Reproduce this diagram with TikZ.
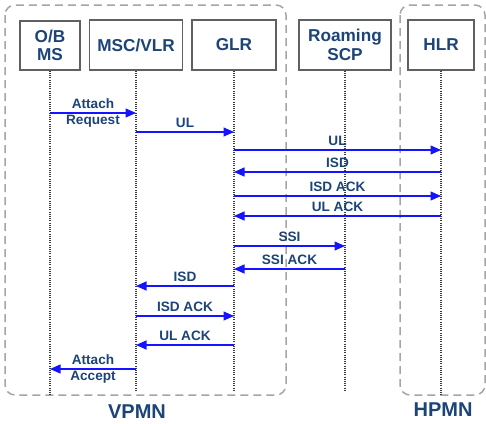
\documentclass[tikz,border=0pt]{standalone}
\usepackage{fontspec}
\setmainfont{Liberation Sans}
\usetikzlibrary{arrows.meta}
\definecolor{txt}{RGB}{28,68,120}
\definecolor{boxline}{RGB}{96,96,96}
\definecolor{zonecol}{RGB}{165,165,165}
\definecolor{lifecol}{RGB}{60,60,60}
\definecolor{msgcol}{RGB}{20,20,255}
\begin{document}
\begin{tikzpicture}[x=1pt,y=-1pt,
  ent/.style={draw=boxline, line width=1.4pt, fill=white, text=txt,
    font=\fontsize{17.2}{18.5}\selectfont\bfseries, align=center,
    minimum height=50pt, inner sep=0pt},
  zone/.style={draw=zonecol, line width=1.5pt, dash pattern=on 8pt off 5pt, rounded corners=10pt},
  lifeline/.style={draw=lifecol, line width=1.1pt, dash pattern=on 1.1pt off 1.1pt},
  msg/.style={draw=msgcol, line width=1.3pt, -{Triangle[length=10.5pt,width=9pt]}},
  lbl/.style={text=txt, font=\fontsize{13.6}{15.5}\selectfont\bfseries, inner sep=0pt, anchor=base, yshift=4.5pt},
  lbltwo/.style={text=txt, font=\fontsize{13.6}{15.5}\selectfont\bfseries, inner sep=0pt, align=center, anchor=center},
  zonelbl/.style={text=txt, font=\fontsize{20}{22}\selectfont\bfseries, inner sep=0pt}
]
\useasboundingbox (0,0) rectangle (486,423);
% zones
\draw[zone] (5,5) rectangle (286,395);
\draw[zone] (400,5) rectangle (485,395);
\node[zonelbl] (vpmn) at (137,412) {VPMN};
\node[zonelbl] (hpmn) at (443,410) {HPMN};
% entities
\node[ent, minimum width=60pt, minimum height=49pt] (ms) at (50,45.5) {O/B\\MS};
\node[ent, minimum width=93pt] (msc) at (136,45) {MSC/VLR};
\node[ent, minimum width=84pt] (glr) at (234,45) {GLR};
\node[ent, minimum width=92pt] (scp) at (345,45) {Roaming\\SCP};
\node[ent, minimum width=66pt] (hlr) at (441,45) {HLR};
% lifelines
\coordinate (msend) at (ms |- 0,395);
\coordinate (mscend) at (msc |- 0,391);
\coordinate (glrend) at (glr |- 0,391);
\coordinate (scpend) at (scp |- 0,390);
\coordinate (hlrend) at (hlr |- 0,395);
\draw[lifeline] (ms.south) -- (msend);
\draw[lifeline] (msc.south) -- (mscend);
\draw[lifeline] (glr.south) -- (glrend);
\draw[lifeline] (scp.south) -- (scpend);
\draw[lifeline] (hlr.south) -- (hlrend);
% messages
\draw[msg] (ms |- 0,113) -- node[lbltwo, midway] {Attach\\Request} (msc |- 0,113);
\draw[msg] (msc |- 0,132) -- node[lbl, midway] {UL} (glr |- 0,132);
\draw[msg] (glr |- 0,150) -- node[lbl, midway] {UL} (hlr |- 0,150);
\draw[msg] (hlr |- 0,172) -- node[lbl, midway] {ISD} (glr |- 0,172);
\draw[msg] (glr |- 0,196) -- node[lbl, midway] {ISD ACK} (hlr |- 0,196);
\draw[msg] (hlr |- 0,216) -- node[lbl, midway] {UL ACK} (glr |- 0,216);
\draw[msg] (glr |- 0,246) -- node[lbl, midway] {SSI} (scp |- 0,246);
\draw[msg] (scp |- 0,269) -- node[lbl, midway] {SSI ACK} (glr |- 0,269);
\draw[msg] (glr |- 0,286) -- node[lbl, midway] {ISD} (msc |- 0,286);
\draw[msg] (msc |- 0,316) -- node[lbl, midway] {ISD ACK} (glr |- 0,316);
\draw[msg] (glr |- 0,345) -- node[lbl, midway] {UL ACK} (msc |- 0,345);
\draw[msg] (msc |- 0,369) -- node[lbltwo, midway] {Attach\\Accept} (ms |- 0,369);
\end{tikzpicture}
\end{document}
